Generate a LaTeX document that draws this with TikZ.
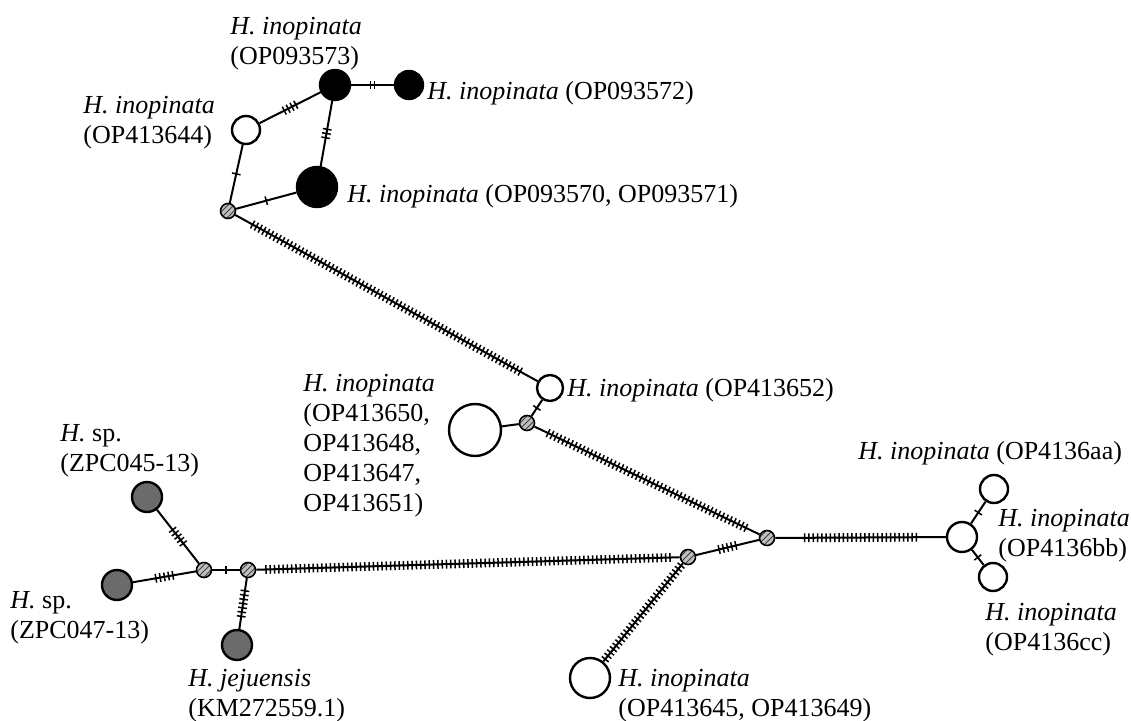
\documentclass[tikz,border=0pt]{standalone}
\usepackage{fontspec}
\setmainfont{Liberation Serif}
\usetikzlibrary{decorations.markings,patterns}
\begin{document}
\begin{tikzpicture}[x=0.5pt,y=-0.5pt,
  hap/.style={circle,draw,line width=1.2pt,fill=white,inner sep=0pt,minimum size=#1},
  blk/.style={hap=#1,fill=black},
  gry/.style={hap=#1,fill=black!58},
  med/.style={circle,draw,line width=0.8pt,inner sep=0pt,minimum size=7.5pt,
    preaction={fill=black!25},pattern=north east lines,pattern color=black!75},
  lbl/.style={anchor=north west,inner sep=0pt,align=left,font=\fontsize{13}{15}\selectfont},
  edge/.style={line width=1pt},
  mut/.style={postaction={decorate,decoration={markings,
    mark=between positions {0.5*\pgfdecoratedpathlength-(#1-1)*1.075pt} and {0.5*\pgfdecoratedpathlength+(#1-1)*1.075pt+0.1pt} step 2.15pt
    with {\draw[line width=0.75pt] (0,-2.2pt) -- (0,2.2pt);}}}}]
\useasboundingbox (0,0) rectangle (1131,721);
\node[blk=15pt] (h73) at (335,85) {};
\node[blk=14pt] (h72) at (409,85) {};
\node[hap=14pt] (h44) at (246,130) {};
\node[blk=20pt] (h70) at (317,187) {};
\node[med] (m1) at (228,211) {};
\node[hap=13pt] (h52) at (550,388) {};
\node[hap=26pt] (h50) at (475,430) {};
\node[med] (m2) at (527,423) {};
\node[med] (m3) at (767,538) {};
\node[med] (m4) at (688,557) {};
\node[hap=15pt] (hbb) at (962,537) {};
\node[hap=14pt] (haa) at (994,489) {};
\node[hap=14pt] (hcc) at (993,577) {};
\node[hap=20pt] (h45) at (590,678) {};
\node[med] (m5) at (248,570) {};
\node[med] (m6) at (204,570) {};
\node[gry=15pt] (z45) at (147,497) {};
\node[gry=15pt] (z47) at (117,585) {};
\node[gry=15pt] (km) at (237,645) {};
\draw[edge,mut=2] (h73) -- (h72);
\draw[edge,mut=4] (h73) -- (h44);
\draw[edge,mut=3] (h73) -- (h70);
\draw[edge,mut=1] (h44) -- (m1);
\draw[edge,mut=1] (m1) -- (h70);
\draw[edge,mut=72] (m1) -- (h52);
\draw[edge,mut=1] (h52) -- (m2);
\draw[edge] (h50) -- (m2);
\draw[edge,mut=52] (m2) -- (m3);
\draw[edge,mut=5] (m4) -- (m3);
\draw[edge,mut=27] (m3) -- (hbb);
\draw[edge,mut=1] (hbb) -- (haa);
\draw[edge,mut=1] (hbb) -- (hcc);
\draw[edge,mut=29] (m4) -- (h45);
\draw[edge,mut=95] (m5) -- (m4);
\draw[edge,mut=1] (m6) -- (m5);
\draw[edge,mut=5] (m6) -- (z45);
\draw[edge,mut=5] (m6) -- (z47);
\draw[edge,mut=7] (m5) -- (km);
\node[lbl] (t73) at (230,17) {\textit{H. inopinata}\\(OP093573)};
\node[lbl] (t72) at (427,81) {\textit{H. inopinata} (OP093572)};
\node[lbl] (t44) at (83,96) {\textit{H. inopinata}\\(OP413644)};
\node[lbl] (t70) at (347,184) {\textit{H. inopinata} (OP093570, OP093571)};
\node[lbl] (t52) at (567,378) {\textit{H. inopinata} (OP413652)};
\node[lbl] (t50) at (303,374) {\textit{H. inopinata}\\(OP413650,\\OP413648,\\OP413647,\\OP413651)};
\node[lbl] (tz45) at (60,424) {\textit{H.} sp.\\(ZPC045-13)};
\node[lbl] (tz47) at (10,591) {\textit{H.} sp.\\(ZPC047-13)};
\node[lbl] (tkm) at (188,669) {\textit{H. jejuensis}\\(KM272559.1)};
\node[lbl] (taa) at (858,441) {\textit{H. inopinata} (OP4136aa)};
\node[lbl] (tbb) at (998,509) {\textit{H. inopinata}\\(OP4136bb)};
\node[lbl] (tcc) at (985,603) {\textit{H. inopinata}\\(OP4136cc)};
\node[lbl] (t45) at (618,669) {\textit{H. inopinata}\\(OP413645, OP413649)};
\end{tikzpicture}
\end{document}
